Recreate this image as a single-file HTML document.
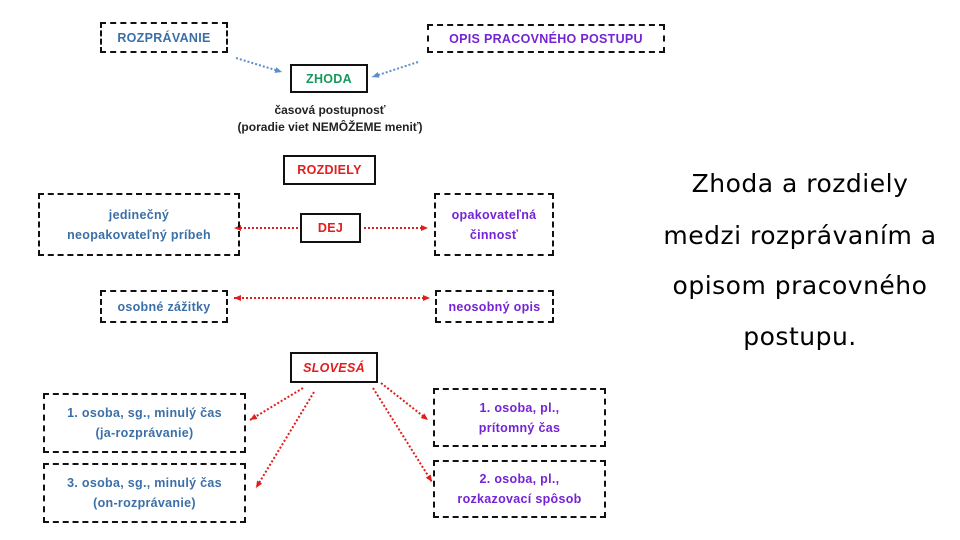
<!DOCTYPE html>
<html><head><meta charset="utf-8"><style>
body{margin:0;width:960px;height:540px;background:#fff;position:relative;overflow:hidden;font-family:"Liberation Sans",sans-serif}
.b{position:absolute;box-sizing:border-box;border:2px dashed #111;display:flex;align-items:center;justify-content:center;text-align:center;font-weight:bold;font-size:12.5px;line-height:20px;letter-spacing:0.3px}
.s{border-style:solid;border-width:2px}
.bl{color:#3b6fa8}.pu{color:#7423d6}.gr{color:#17985a}.rd{color:#e11d1d}
.t{position:absolute;font-size:12px;font-weight:bold;color:#222;text-align:center}
.r{position:absolute;left:630px;width:340px;text-align:center;font-family:"DejaVu Sans",sans-serif;font-size:25px;color:#000;letter-spacing:0.5px}
svg{position:absolute;left:0;top:0}
</style></head><body>
<svg width="960" height="540">
<defs>
<marker id="ab" markerUnits="userSpaceOnUse" markerWidth="7" markerHeight="6" refX="7" refY="3" orient="auto"><path d="M0,0 L7,3 L0,6z" fill="#5b8fc7"/></marker>
<marker id="ar" markerUnits="userSpaceOnUse" markerWidth="7" markerHeight="6" refX="7" refY="3" orient="auto"><path d="M0,0 L7,3 L0,6z" fill="#e11d1d"/></marker>
<marker id="ars" markerUnits="userSpaceOnUse" markerWidth="7" markerHeight="6" refX="0" refY="3" orient="auto"><path d="M7,0 L0,3 L7,6z" fill="#e11d1d"/></marker>
</defs>
<g stroke-dasharray="2,2" stroke-width="2" fill="none">
<path d="M236,58 L282,72" stroke="#5b8fc7" marker-end="url(#ab)"/>
<path d="M418,62 L372,77" stroke="#5b8fc7" marker-end="url(#ab)"/>
<path d="M298,228 L234,228" stroke="#e11d1d" marker-end="url(#ar)"/>
<path d="M364,228 L428,228" stroke="#e11d1d" marker-end="url(#ar)"/>
<path d="M234,298 L430,298" stroke="#e11d1d" marker-end="url(#ar)" marker-start="url(#ars)"/>
<path d="M303,388 L250,420" stroke="#e11d1d" marker-end="url(#ar)"/>
<path d="M314,392 L256,488" stroke="#e11d1d" marker-end="url(#ar)"/>
<path d="M381,383 L428,420" stroke="#e11d1d" marker-end="url(#ar)"/>
<path d="M373,388 L432,482" stroke="#e11d1d" marker-end="url(#ar)"/>
</g></svg>
<div class="b bl" style="left:100px;top:22px;width:128px;height:31px">ROZPRÁVANIE</div>
<div class="b pu" style="left:427px;top:24px;width:238px;height:29px">OPIS PRACOVNÉHO POSTUPU</div>
<div class="b s gr" style="left:290px;top:64px;width:78px;height:29px">ZHODA</div>
<div class="t" style="left:200px;top:102px;width:260px;line-height:17px">časová postupnosť<br>(poradie viet NEMÔŽEME meniť)</div>
<div class="b s rd" style="left:283px;top:155px;width:93px;height:30px">ROZDIELY</div>
<div class="b bl" style="left:38px;top:193px;width:202px;height:63px">jedinečný<br>neopakovateľný príbeh</div>
<div class="b s rd" style="left:300px;top:213px;width:61px;height:30px">DEJ</div>
<div class="b pu" style="left:434px;top:193px;width:120px;height:63px">opakovateľná<br>činnosť</div>
<div class="b bl" style="left:100px;top:290px;width:128px;height:33px">osobné zážitky</div>
<div class="b pu" style="left:435px;top:290px;width:119px;height:33px">neosobný opis</div>
<div class="b s rd" style="left:290px;top:352px;width:88px;height:31px;font-style:italic">SLOVESÁ</div>
<div class="b bl" style="left:43px;top:393px;width:203px;height:60px">1. osoba, sg., minulý čas<br>(ja-rozprávanie)</div>
<div class="b bl" style="left:43px;top:463px;width:203px;height:60px">3. osoba, sg., minulý čas<br>(on-rozprávanie)</div>
<div class="b pu" style="left:433px;top:388px;width:173px;height:59px">1. osoba, pl.,<br>prítomný čas</div>
<div class="b pu" style="left:433px;top:460px;width:173px;height:58px">2. osoba, pl.,<br>rozkazovací spôsob</div>
<div class="r" style="top:169px">Zhoda a rozdiely</div>
<div class="r" style="top:221px">medzi rozprávaním a</div>
<div class="r" style="top:271px">opisom pracovného</div>
<div class="r" style="top:322px">postupu.</div>
</body></html>
